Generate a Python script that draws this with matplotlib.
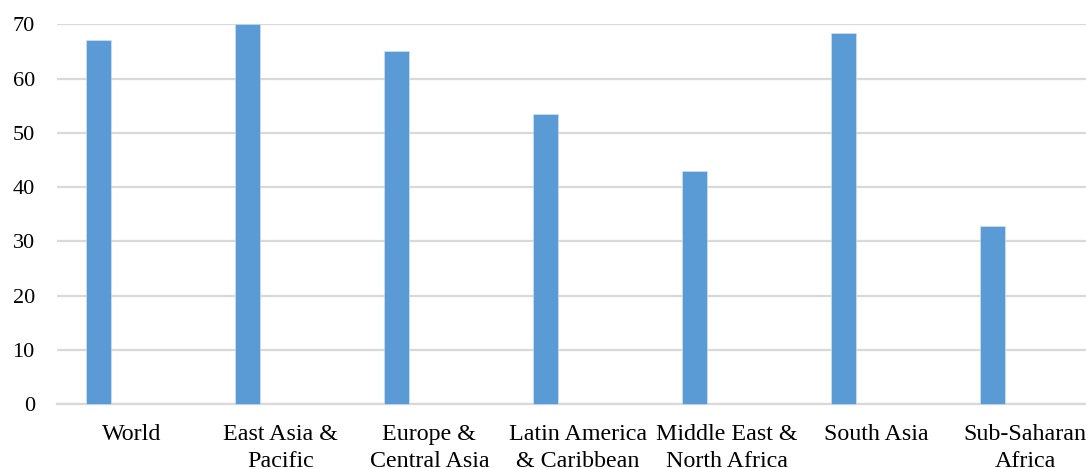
import matplotlib
matplotlib.use("Agg")
import matplotlib.pyplot as plt
import numpy as np

categories = ["World", "East Asia &\nPacific", "Europe &\nCentral Asia", "Latin America\n& Caribbean",
              "Middle East &\nNorth Africa", "South Asia", "Sub-Saharan\nAfrica"]
values = [67.1, 70.1, 65.1, 53.5, 43.0, 68.4, 32.8]
yticks = [0, 10, 20, 30, 40, 50, 60, 70]

plt.rcParams['font.family'] = ['Liberation Serif', 'DejaVu Serif']

fig = plt.figure(figsize=(10.86, 4.69), dpi=100)
ax = fig.add_axes([57/1086, 65/469, (1099.5-57)/1086, (404-24.3)/469])

x = np.arange(len(categories))
ax.bar(x - 0.22, values, width=0.168, color='#5b9bd5', edgecolor='#d6e6f5', linewidth=0.4,
       zorder=3, clip_on=False)

ax.set_xlim(-0.5, len(categories) - 0.5)
ax.set_ylim(0, 70)
ax.set_yticks(yticks)
ax.set_yticklabels([str(t) for t in yticks], fontsize=16)
ax.set_xticks(x)
ax.set_xticklabels(categories, fontsize=17.3, linespacing=1.38)
ax.tick_params(axis='y', length=0, pad=16)
ax.tick_params(axis='x', length=0, pad=14.6)

ax.grid(axis='y', color='#d9d9d9', linewidth=1.6, zorder=0)
for s in ['top', 'right', 'left']:
    ax.spines[s].set_visible(False)
ax.spines['bottom'].set_color('#d9d9d9')
ax.spines['bottom'].set_linewidth(1.6)
ax.set_axisbelow(True)

fig.savefig("out.png", dpi=100)
